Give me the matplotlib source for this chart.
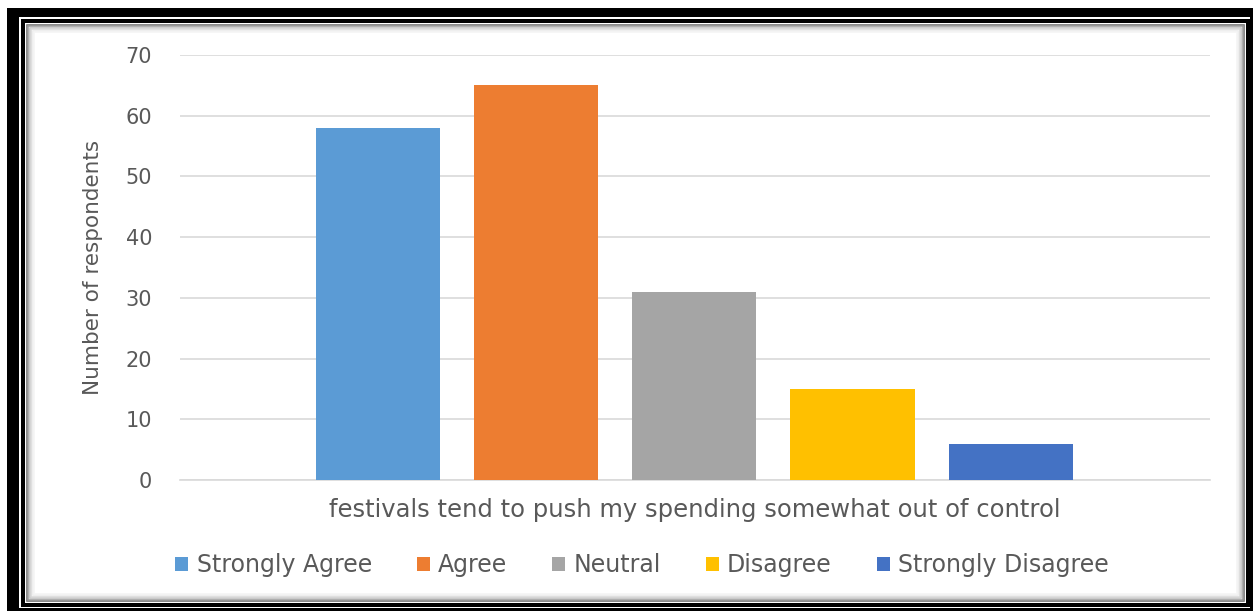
import matplotlib.pyplot as plt
from matplotlib.patches import Rectangle, Patch

categories = ["Strongly Agree", "Agree", "Neutral", "Disagree", "Strongly Disagree"]
values = [58, 65, 31, 15, 6]
colors = ["#5B9BD5", "#ED7D31", "#A5A5A5", "#FFC000", "#4472C4"]
yticks = [0, 10, 20, 30, 40, 50, 60, 70]
xlabel = "festivals tend to push my spending somewhat out of control"
ylabel = "Number of respondents"

plt.rcParams['font.family'] = ['DejaVu Sans']
txt = "#595959"

fig = plt.figure(figsize=(12.53, 6.11), dpi=100)
W, H = 1253, 611
PT = 72 / 100  # points per pixel


def band(x0, y0, x1, y1, color):
    fig.patches.append(Rectangle((x0 / W, 1 - y1 / H), (x1 - x0) / W, (y1 - y0) / H,
                                 transform=fig.transFigure, facecolor=color,
                                 edgecolor="none", zorder=0))


def frame(x0, y0, x1, y1, lwpx, color):
    fig.patches.append(Rectangle((x0 / W, 1 - y1 / H), (x1 - x0) / W, (y1 - y0) / H,
                                 transform=fig.transFigure, fill=False,
                                 edgecolor=color, linewidth=lwpx * PT, zorder=0))


# outer thick black border (cropped at right/bottom)
band(7, 8, 1253, 17, "black")
band(7, 8, 19, 611, "black")
band(7, 608, 1253, 611, "black")
band(1250, 8, 1253, 611, "black")
# inner line
frame(23, 21, 1247.5, 604.5, 4, "black")
# soft inner shadow
for i, c in enumerate(["#6e6e6e", "#9a9a9a", "#bdbdbd", "#d8d8d8", "#eaeaea", "#f5f5f5"]):
    o = 3.5 + 1.5 * i
    frame(23 + o, 21 + o, 1247.5 - o, 604.5 - o, 1.6, c)

ax = fig.add_axes([180 / W, 1 - 480 / H, (1210 - 180) / W, (480 - 55) / H])
positions = list(range(-2, 3))
for pos, v, c in zip(positions, values, colors):
    ax.bar(pos, v, width=0.785, color=c, zorder=3)

ax.set_xlim(-3.25, 3.26)
ax.set_ylim(0, 70)
ax.set_yticks(yticks)
ax.yaxis.grid(True, color="#D9D9D9", linewidth=1.2, zorder=0)
ax.set_axisbelow(True)
ax.patch.set_alpha(0)
for s in ["top", "right", "left"]:
    ax.spines[s].set_visible(False)
ax.spines["bottom"].set_color("#D9D9D9")
ax.spines["bottom"].set_linewidth(1.2)
ax.tick_params(axis="y", length=0, labelsize=15, labelcolor=txt, pad=20)
ax.set_xticks([])
ax.set_xlabel(xlabel, fontsize=17.5, color=txt, labelpad=13)
ax.set_ylabel(ylabel, fontsize=15.5, color=txt, labelpad=16)

handles = [Patch(facecolor=c, label=l) for c, l in zip(colors, categories)]
fig.legend(handles=handles, loc="center", bbox_to_anchor=(642 / W, 1 - 565 / H),
           ncol=5, frameon=False, fontsize=17, handlelength=0.55, handleheight=0.55,
           handletextpad=0.35, columnspacing=1.9, labelcolor=txt)

fig.savefig("out.png", dpi=100)
